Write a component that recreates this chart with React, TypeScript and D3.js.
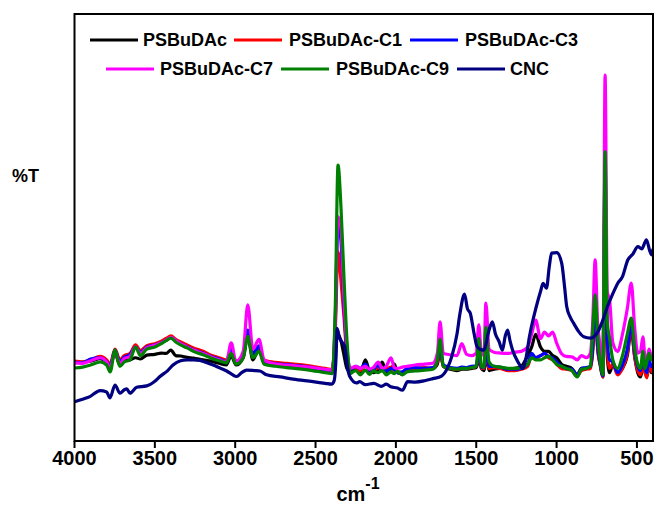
import React from 'react';
import * as d3 from 'd3';

// shared wavenumber grid for the polymer spectra (cm-1, descending)
const wavenumbers = [
  4000, 3950, 3900, 3840, 3800, 3778, 3748, 3718, 3690, 3655,
  3620, 3590, 3550, 3500, 3460, 3430, 3400, 3370, 3340, 3300,
  3260, 3200, 3150, 3100, 3055, 3025, 2995, 2950, 2922, 2890,
  2852, 2820, 2750, 2680, 2600, 2520, 2440, 2395, 2378, 2360,
  2342, 2325, 2305, 2285, 2250, 2220, 2190, 2165, 2140, 2110,
  2085, 2060, 2030, 2010, 1990, 1960, 1930, 1880, 1820, 1770,
  1742, 1725, 1705, 1660, 1620, 1590, 1560, 1530, 1500, 1484,
  1468, 1452, 1440, 1420, 1390, 1350, 1300, 1260, 1220, 1180,
  1155, 1130, 1100, 1075, 1050, 1025, 1000, 970, 940, 905,
  872, 845, 815, 790, 775, 760, 745, 728, 712, 698,
  685, 670, 650, 620, 590, 560, 535, 515, 495, 478,
  463, 450, 438, 425, 410, 400,
];

const psbudac = [
  18.3, 18.5, 18.7, 19.3, 18.6, 17.8, 20.6, 17.8, 18.8, 19.0,
  19.5, 19.2, 20.1, 20.3, 20.6, 20.5, 21.3, 20.0, 19.9, 19.6,
  19.4, 19.0, 18.7, 18.2, 17.8, 20.0, 17.8, 19.5, 24.5, 19.0,
  21.5, 18.3, 18.0, 17.8, 17.5, 17.1, 16.6, 16.8, 22.0, 25.0,
  23.5, 20.5, 17.0, 16.2, 16.6, 16.0, 19.0, 16.5, 16.0, 16.8,
  18.5, 16.2, 16.8, 18.0, 16.0, 15.8, 16.5, 16.8, 16.9, 17.0,
  18.0, 21.0, 17.5, 16.8, 16.5, 16.8, 16.8, 17.0, 17.2, 19.0,
  17.0, 16.5, 20.0, 16.5, 16.8, 17.0, 16.8, 17.0, 17.5, 20.0,
  22.0, 25.0, 22.0, 21.0, 21.0, 20.0, 19.5, 18.0, 17.5, 17.0,
  15.5, 17.0, 17.0, 17.5, 22.0, 33.0, 22.0, 18.0, 15.0, 58.0,
  20.0, 16.0, 18.0, 16.0, 17.0, 20.0, 26.0, 20.0, 16.0, 15.0,
  17.0, 16.5, 15.2, 18.0, 16.0, 17.0,
];

const psbudacC1 = [
  18.7, 18.5, 19.0, 19.8, 19.0, 18.0, 21.5, 19.0, 20.0, 20.5,
  22.5, 21.2, 22.3, 22.8, 23.4, 24.0, 24.6, 23.8, 23.2, 22.5,
  21.8, 21.0, 20.1, 19.5, 19.0, 21.0, 18.7, 20.0, 25.5, 20.5,
  22.0, 18.9, 18.4, 18.2, 17.9, 17.5, 17.0, 16.8, 25.0, 44.3,
  37.7, 30.0, 20.0, 17.0, 17.2, 16.5, 17.5, 16.8, 16.5, 17.2,
  16.6, 16.8, 17.3, 16.5, 16.2, 16.0, 16.8, 17.0, 17.2, 17.0,
  18.5, 21.5, 17.5, 17.0, 16.8, 17.0, 17.0, 17.2, 17.5, 20.5,
  17.0, 17.0, 21.0, 17.0, 17.2, 17.0, 16.5, 16.5, 16.8, 17.5,
  20.0, 19.5, 20.0, 20.5, 19.5, 19.0, 18.0, 17.0, 16.8, 16.5,
  15.2, 16.5, 16.8, 17.0, 21.0, 34.0, 22.0, 17.5, 15.0, 62.0,
  22.0, 17.0, 18.0, 15.5, 17.0, 20.5, 27.0, 20.0, 16.5, 15.5,
  17.5, 16.0, 14.8, 18.0, 16.5, 16.0,
];

const psbudacC3 = [
  18.5, 18.3, 19.2, 19.5, 18.6, 17.6, 21.3, 18.6, 19.6, 20.2,
  22.0, 20.8, 22.0, 22.5, 23.0, 23.6, 24.2, 23.5, 22.8, 22.1,
  21.4, 20.6, 19.8, 19.2, 18.6, 21.5, 18.4, 20.0, 26.0, 20.3,
  22.3, 18.6, 18.1, 17.9, 17.6, 17.2, 16.7, 16.5, 27.0, 51.1,
  47.0, 33.0, 21.0, 16.7, 17.5, 17.0, 18.0, 16.6, 16.8, 17.8,
  16.5, 16.4, 17.0, 16.8, 16.0, 16.2, 17.0, 17.2, 17.0, 17.2,
  19.0, 22.0, 17.8, 17.2, 17.0, 17.3, 17.2, 17.5, 17.6, 21.0,
  17.3, 17.2, 22.0, 17.5, 17.5, 17.3, 16.8, 16.8, 17.0, 18.0,
  20.5, 19.5, 20.0, 20.5, 19.8, 19.5, 18.5, 17.5, 17.0, 16.8,
  15.5, 17.0, 17.2, 17.5, 22.0, 35.0, 23.0, 18.0, 15.3, 65.0,
  24.0, 19.0, 18.5, 16.0, 17.8, 21.5, 27.5, 21.0, 17.5, 16.5,
  19.0, 17.0, 16.0, 19.0, 17.5, 17.5,
];

const psbudacC7 = [
  18.3, 18.2, 18.8, 19.5, 18.5, 17.2, 21.0, 18.2, 19.3, 19.8,
  22.0, 20.5, 21.8, 22.4, 23.0, 23.6, 24.3, 23.5, 22.8, 22.0,
  21.3, 20.5, 19.7, 19.0, 18.5, 23.0, 18.6, 21.0, 31.9, 21.5,
  23.8, 19.0, 18.0, 17.8, 17.5, 17.2, 16.8, 16.6, 28.0, 52.5,
  50.0, 35.0, 22.0, 17.0, 17.5, 17.0, 17.5, 16.8, 17.2, 18.5,
  17.0, 17.5, 19.5, 17.2, 17.0, 17.3, 17.5, 17.8, 18.0, 18.2,
  20.5, 27.9, 20.5, 20.2, 20.0, 22.8, 20.3, 20.0, 20.6, 27.2,
  20.5, 20.0, 32.3, 21.5, 20.8, 20.6, 20.5, 20.8, 21.0, 22.0,
  25.0, 28.3, 24.0, 25.5, 24.6, 25.5, 23.0, 20.5, 19.8, 19.7,
  19.0, 20.0, 19.5, 20.5, 28.0, 42.4, 28.0, 22.0, 16.0, 85.7,
  35.0, 33.0, 23.0, 21.0, 25.0, 31.0, 37.0, 27.0, 20.6, 21.0,
  24.4, 19.7, 19.0, 21.5, 20.0, 20.5,
];

const psbudacC9 = [
  17.1, 17.3, 17.8, 18.5, 17.8, 16.2, 21.3, 17.5, 18.5, 19.0,
  22.0, 20.0, 21.5, 22.0, 22.8, 23.5, 24.1, 23.2, 22.5, 21.8,
  21.0, 20.2, 19.4, 18.8, 18.3, 20.5, 18.0, 19.5, 24.5, 19.5,
  21.0, 18.0, 17.5, 17.2, 16.9, 16.5, 16.0, 15.8, 30.0, 64.6,
  55.0, 40.0, 24.0, 15.8, 16.5, 15.5, 16.6, 15.6, 16.4, 16.0,
  16.5, 15.5, 16.2, 15.8, 16.3, 15.5, 16.2, 16.4, 16.6, 16.8,
  19.0, 23.8, 17.5, 17.0, 16.8, 17.0, 17.0, 17.2, 17.5, 24.0,
  17.5, 17.2, 26.7, 18.5, 17.5, 17.3, 17.0, 17.0, 17.2, 18.0,
  19.5, 19.0, 19.0, 19.5, 19.8, 19.0, 18.0, 17.5, 17.0, 16.5,
  15.0, 16.8, 17.0, 17.5, 26.0, 34.2, 25.0, 18.5, 15.5, 67.7,
  28.0, 24.0, 19.0, 17.0, 20.0, 25.0, 28.8, 22.0, 18.0, 17.0,
  21.0, 17.0, 18.5, 20.5, 19.0, 19.5,
];

// CNC has its own sampling
const cncWavenumbers = [
  4000, 3950, 3904, 3841, 3800, 3779, 3748, 3717, 3690, 3675,
  3655, 3613, 3551, 3500, 3468, 3420, 3387, 3340, 3302, 3260,
  3220, 3180, 3137, 3090, 3053, 3020, 2991, 2960, 2929, 2880,
  2846, 2805, 2720, 2640, 2516, 2440, 2400, 2385, 2372, 2366,
  2350, 2338, 2318, 2300, 2287, 2245, 2225, 2190, 2137, 2090,
  2060, 2032, 1990, 1959, 1927, 1880, 1822, 1770, 1716, 1680,
  1653, 1620, 1601, 1573, 1555, 1537, 1515, 1495, 1470, 1453,
  1420, 1400, 1380, 1358, 1337, 1320, 1305, 1290, 1274, 1240,
  1211, 1190, 1169, 1126, 1100, 1084, 1063, 1045, 1031, 999,
  968, 950, 937, 915, 894, 860, 831, 789, 747, 715,
  683, 650, 620, 590, 557, 525, 494, 470, 441, 420,
  409, 400,
];

const cnc = [
  9.2, 9.8, 10.4, 11.8, 11.5, 10.1, 13.1, 11.2, 12.0, 12.2,
  11.2, 12.6, 12.9, 14.0, 15.1, 16.5, 17.8, 18.8, 19.0, 19.0,
  18.9, 18.4, 17.8, 17.0, 16.4, 15.6, 15.1, 16.0, 16.6, 16.5,
  16.4, 15.5, 15.0, 14.5, 13.9, 13.5, 13.3, 14.0, 20.0, 26.4,
  24.0, 23.3, 22.1, 17.0, 15.1, 13.6, 13.9, 13.2, 13.5, 12.8,
  13.3, 12.7, 12.4, 11.9, 13.9, 13.8, 14.1, 14.6, 15.2, 17.0,
  19.7, 25.0, 29.9, 34.4, 31.0, 29.9, 25.5, 22.1, 21.4, 21.3,
  26.0, 27.9, 25.0, 23.3, 21.3, 24.5, 26.0, 23.5, 21.3, 18.5,
  17.0, 19.5, 24.4, 31.5, 35.0, 36.9, 35.8, 41.0, 44.0, 44.1,
  41.6, 36.0, 31.5, 29.0, 27.6, 25.5, 24.4, 24.1, 25.3, 28.0,
  31.5, 34.5, 36.9, 38.5, 42.4, 43.8, 45.5, 45.0, 47.1, 44.5,
  43.6, 45.0,
];

const xTicks = [4000, 3500, 3000, 2500, 2000, 1500, 1000, 500];

const series = [
  { name: 'PSBuDAc', color: '#000000', x: wavenumbers, y: psbudac },
  { name: 'PSBuDAc-C1', color: '#ff0000', x: wavenumbers, y: psbudacC1 },
  { name: 'PSBuDAc-C3', color: '#0000ff', x: wavenumbers, y: psbudacC3 },
  { name: 'PSBuDAc-C7', color: '#ff00ff', x: wavenumbers, y: psbudacC7 },
  { name: 'PSBuDAc-C9', color: '#008000', x: wavenumbers, y: psbudacC9 },
  { name: 'CNC', color: '#000080', x: cncWavenumbers, y: cnc },
];

// legend rows as in the figure: 3 + 3
const legendLayout = [
  { row: 0, lineX: 90, textX: 143 },
  { row: 0, lineX: 234, textX: 289 },
  { row: 0, lineX: 410, textX: 465 },
  { row: 1, lineX: 106, textX: 160 },
  { row: 1, lineX: 281, textX: 336 },
  { row: 1, lineX: 457, textX: 510 },
];

const W = 656, H = 512;
const margin = { top: 14, right: 3, bottom: 71, left: 74.5 };
const font = '"Liberation Sans", Arial, sans-serif';

export default function App() {
  const x = d3.scaleLinear().domain([4000, 400]).range([margin.left, W - margin.right]);
  const y = d3.scaleLinear().domain([0, 100]).range([H - margin.bottom, margin.top]);

  const line = d3.line<[number, number]>()
    .x(d => x(d[0]))
    .y(d => y(d[1]))
    .curve(d3.curveMonotoneX);

  const bottom = H - margin.bottom;

  return (
    <svg width={W} height={H} style={{ position: 'absolute', left: 0, top: 0, background: '#fff' }}
      fontFamily={font}>
      <defs>
        <clipPath id="plot-clip">
          <rect x={margin.left} y={margin.top} width={W - margin.right - margin.left} height={bottom - margin.top} />
        </clipPath>
      </defs>

      <g clipPath="url(#plot-clip)">
        {series.map(s => (
          <path key={s.name} d={line(s.x.map((w, i) => [w, s.y[i]]) as [number, number][]) || ''}
            fill="none" stroke={s.color} strokeWidth={3.2} strokeLinejoin="round" />
        ))}
      </g>

      <rect x={margin.left} y={margin.top} width={W - margin.right - margin.left} height={bottom - margin.top}
        fill="none" stroke="#000" strokeWidth={2} />

      {xTicks.map(t => (
        <g key={t} transform={`translate(${x(t)},${bottom})`}>
          <line y2={7} stroke="#000" strokeWidth={2} />
          <text y={24} textAnchor="middle" fontSize={20} fontWeight="bold">{t}</text>
        </g>
      ))}

      <text x={358} y={501} textAnchor="middle" fontSize={20} fontWeight="bold">
        cm<tspan dy={-12} fontSize={16}>-1</tspan>
      </text>
      <text x={12} y={182} fontSize={18} fontWeight="bold">%T</text>

      {series.map((s, i) => {
        const l = legendLayout[i];
        const ly = l.row === 0 ? 40 : 69;
        return (
          <g key={s.name}>
            <line x1={l.lineX} x2={l.lineX + 48} y1={ly} y2={ly} stroke={s.color} strokeWidth={3} />
            <text x={l.textX} y={ly + 6} fontSize={18} fontWeight="bold">{s.name}</text>
          </g>
        );
      })}
    </svg>
  );
}
